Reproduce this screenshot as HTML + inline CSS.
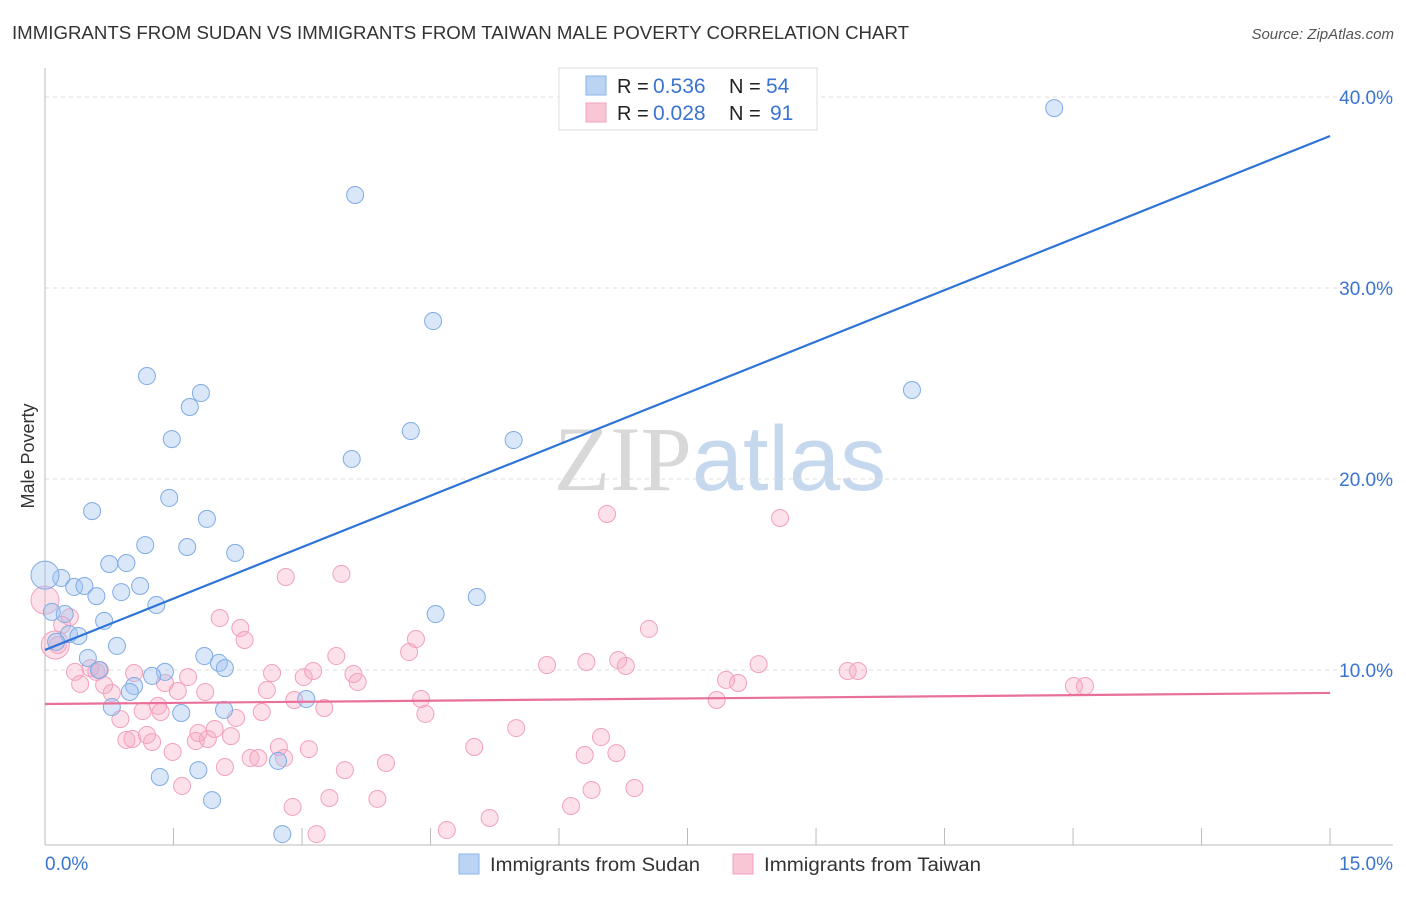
<!DOCTYPE html>
<html><head><meta charset="utf-8"><style>
body{margin:0;background:#fff;font-family:"Liberation Sans",sans-serif;}
svg text{font-family:"Liberation Sans",sans-serif;}
</style></head><body>
<svg id="chart" width="1406" height="892" xmlns="http://www.w3.org/2000/svg">
<text x="12" y="39" font-size="18" fill="#333" textLength="897" lengthAdjust="spacingAndGlyphs">IMMIGRANTS FROM SUDAN VS IMMIGRANTS FROM TAIWAN MALE POVERTY CORRELATION CHART</text>
<text x="1394" y="39" font-size="15" fill="#555" text-anchor="end" font-style="italic">Source: ZipAtlas.com</text>
<text x="720" y="490" font-size="92" text-anchor="middle"><tspan fill="#d8d8d8" font-family="Liberation Serif">ZIP</tspan><tspan fill="#c6d8ee">atlas</tspan></text>
<text transform="translate(34,456) rotate(-90)" font-size="18" fill="#333" text-anchor="middle">Male Poverty</text>
<g id="grid"></g><g id="pts"></g><g id="lines"></g>
<g>
<rect x="559" y="68" width="258" height="62" fill="#fff" stroke="#ddd"/>
<rect x="586" y="76" width="20" height="19" fill="#bcd4f4" stroke="#8ab4e8"/>
<rect x="586" y="103" width="20" height="19" fill="#f9c6d6" stroke="#f2a0bc"/>
<text x="617" y="93" font-size="20" fill="#222">R =</text>
<text x="653" y="93" font-size="21" fill="#3a74d0">0.536</text>
<text x="729" y="93" font-size="20" fill="#222">N =</text>
<text x="766" y="93" font-size="21" fill="#3a74d0">54</text>
<text x="617" y="120" font-size="20" fill="#222">R =</text>
<text x="653" y="120" font-size="21" fill="#3a74d0">0.028</text>
<text x="729" y="120" font-size="20" fill="#222">N =</text>
<text x="770" y="120" font-size="21" fill="#3a74d0">91</text>
</g>
<g>
<rect x="459" y="854" width="20" height="20" fill="#bcd4f4" stroke="#8ab4e8"/>
<text x="490" y="871" font-size="19" fill="#333" textLength="210" lengthAdjust="spacingAndGlyphs">Immigrants from Sudan</text>
<rect x="733" y="854" width="20" height="20" fill="#f9c6d6" stroke="#f2a0bc"/>
<text x="764" y="871" font-size="19" fill="#333" textLength="217" lengthAdjust="spacingAndGlyphs">Immigrants from Taiwan</text>
</g>
</svg>
<script>
const yTicks=[10,20,30,40];
const yTickLabels=["10.0%","20.0%","30.0%","40.0%"];
const xTicks=[0,1.5,3,4.5,6,7.5,9,10.5,12,13.5,15];
const sudanX=[11.78,3.62,4.53,1.19,1.82,1.69,1.48,4.27,3.58,5.47,10.12,1.45,0.55,1.89,1.17,1.66,2.22,0.75,0.95,0.19,0.34,0.46,1.11,0.60,0.89,1.30,5.04,4.56,0.08,0.23,0.28,0.39,0.13,0.69,0.84,0.50,0.63,1.86,2.03,2.10,1.40,1.25,1.04,0.99,0.78,1.59,3.05,2.09,1.34,1.79,1.95,2.72,2.77,0];
const sudanY=[39.42,34.87,28.27,25.39,24.50,23.77,22.09,22.51,21.05,22.04,24.66,19.01,18.32,17.91,16.54,16.44,16.13,15.55,15.60,14.82,14.35,14.40,14.40,13.87,14.08,13.40,13.82,12.93,13.04,12.93,11.88,11.78,11.47,12.57,11.26,10.63,10.00,10.73,10.37,10.10,9.90,9.69,9.16,8.85,8.06,7.75,8.48,7.91,4.40,4.76,3.19,5.24,1.41,14.97];
const taiwanX=[6.56,8.58,2.81,3.46,2.04,2.28,2.33,4.33,4.25,7.05,3.40,5.86,6.32,6.69,6.78,8.33,9.37,9.49,12.01,12.14,7.95,8.09,7.84,0.29,0.20,0.15,0.53,0.35,0.60,0.64,0.41,0.69,0.78,1.04,1.67,1.40,1.55,1.87,2.65,3.02,3.13,3.60,3.65,2.59,2.91,3.26,4.39,4.44,1.14,1.32,1.35,0.88,2.23,2.53,0.95,1.02,1.25,1.19,1.49,1.76,1.90,1.98,2.17,1.79,2.73,3.08,2.40,2.49,2.79,2.10,3.50,3.98,5.01,5.50,6.30,6.49,6.67,1.60,2.89,3.32,3.88,6.14,6.38,6.88,4.69,5.19,3.17,0.12,0];
const taiwanY=[18.17,17.96,14.87,15.03,12.72,12.20,11.57,11.62,10.94,12.15,10.73,10.26,10.42,10.52,10.21,10.31,9.95,9.95,9.16,9.16,9.48,9.32,8.43,12.77,12.36,11.31,10.10,9.90,9.90,10.00,9.27,9.21,8.80,9.84,9.63,9.32,8.90,8.85,9.84,9.63,9.95,9.79,9.37,8.95,8.43,8.01,8.48,7.70,7.85,8.12,7.80,7.43,7.49,7.80,6.34,6.39,6.23,6.60,5.71,6.28,6.39,6.91,6.54,6.70,5.97,5.86,5.39,5.39,5.39,4.92,4.76,5.13,5.97,6.96,5.55,6.49,5.65,3.93,2.83,3.30,3.25,2.88,3.72,3.82,1.62,2.25,1.41,11.31,13.66];
const sudanTrend=[11.05,37.96];
const taiwanTrend=[8.22,8.80];
const sx=v=>45+v*85.67, sy=v=>861-v*19.1;
const NS="http://www.w3.org/2000/svg";
function mk(tag,attrs,parent){const e=document.createElementNS(NS,tag);for(const k in attrs)e.setAttribute(k,attrs[k]);parent.appendChild(e);return e;}
const grid=document.getElementById('grid');
yTicks.forEach((t,i)=>{
 const l=mk('line',{x1:45,x2:1393,y1:sy(t),y2:sy(t),stroke:'#ddd','stroke-dasharray':'4,4'},grid);
 
 
 const tx=mk('text',{x:1393,y:sy(t)+7,'font-size':19,fill:'#3a74d0','text-anchor':'end'},grid);
 tx.textContent=yTickLabels[i];
 
 
});
const ax=mk('line',{x1:45,x2:1393,y1:845,y2:845,stroke:'#bbb'},grid);


const ay=mk('line',{x1:45,x2:45,y1:68,y2:845,stroke:'#bbb'},grid);


xTicks.forEach(t=>{
 const l=mk('line',{x1:sx(t),x2:sx(t),y1:828,y2:845,stroke:'#bbb'},grid);
 
 
});
const xl0=mk('text',{x:45,y:870,'font-size':19,fill:'#3a74d0'},grid);xl0.textContent="0.0%";


const xl1=mk('text',{x:1393,y:870,'font-size':19,fill:'#3a74d0','text-anchor':'end'},grid);xl1.textContent="15.0%";


const pts=document.getElementById('pts');
taiwanX.forEach((x,i)=>{
 const big=i>=taiwanX.length-2;
 const c=mk('circle',{cx:sx(x),cy:sy(taiwanY[i]),r:big?14:8.5,fill:'rgba(246,170,196,0.35)',stroke:'#f2a0bc','stroke-width':1},pts);
 
 
});
sudanX.forEach((x,i)=>{
 const big=i===sudanX.length-1;
 const c=mk('circle',{cx:sx(x),cy:sy(sudanY[i]),r:big?14:8.5,fill:'rgba(160,196,240,0.4)',stroke:'#7fabe4','stroke-width':1},pts);
 
 
});
const lines=document.getElementById('lines');
const bl=mk('line',{x1:sx(0),y1:sy(sudanTrend[0]),x2:sx(15),y2:sy(sudanTrend[1]),stroke:'#2f74d8','stroke-width':2.2},lines);


const pl=mk('line',{x1:sx(0),y1:sy(taiwanTrend[0]),x2:sx(15),y2:sy(taiwanTrend[1]),stroke:'#e8709a','stroke-width':2.2},lines);


</script>
</body></html>
